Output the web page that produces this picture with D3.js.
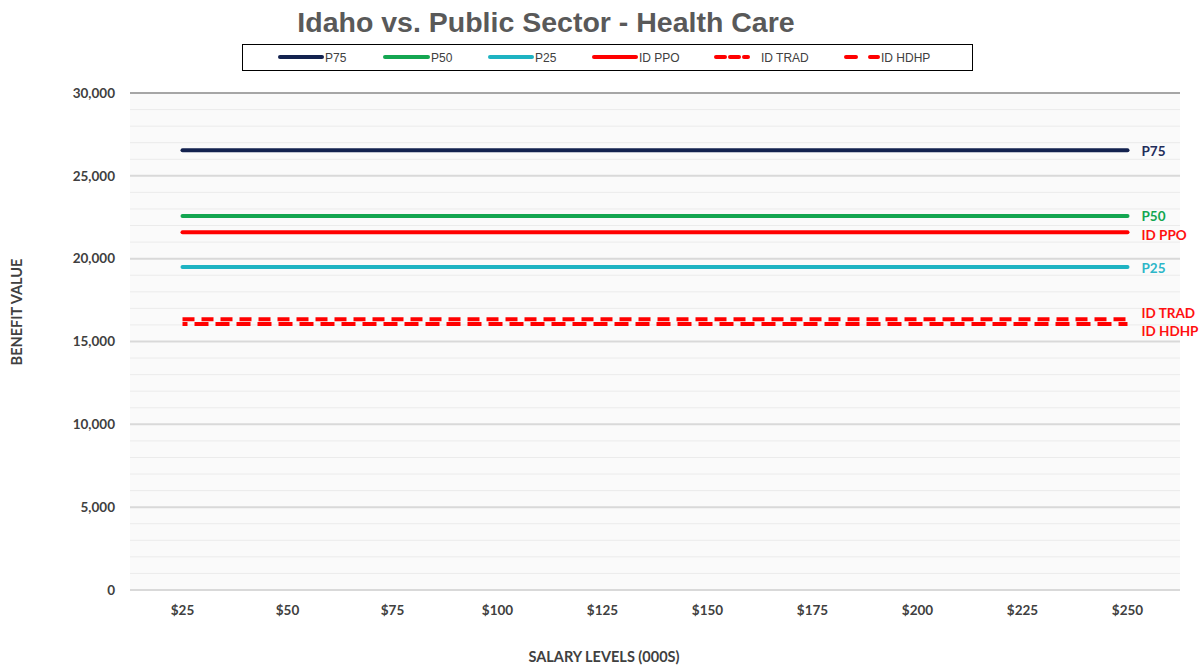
<!DOCTYPE html>
<html>
<head>
<meta charset="utf-8">
<script src="https://cdn.jsdelivr.net/npm/d3@7/dist/d3.min.js"></script>
<style>
body { margin: 0; background: #fff; }
</style>
</head>
<body>
<script>
const salaries = ["$25", "$50", "$75", "$100", "$125", "$150", "$175", "$200", "$225", "$250"];
const seriesNames = ["P75", "P50", "P25", "ID PPO", "ID TRAD", "ID HDHP"];
const p75 = [26550, 26550, 26550, 26550, 26550, 26550, 26550, 26550, 26550, 26550];
const p50 = [22570, 22570, 22570, 22570, 22570, 22570, 22570, 22570, 22570, 22570];
const p25 = [19490, 19490, 19490, 19490, 19490, 19490, 19490, 19490, 19490, 19490];
const idPpo = [21600, 21600, 21600, 21600, 21600, 21600, 21600, 21600, 21600, 21600];
const idTrad = [16350, 16350, 16350, 16350, 16350, 16350, 16350, 16350, 16350, 16350];
const idHdhp = [16050, 16050, 16050, 16050, 16050, 16050, 16050, 16050, 16050, 16050];
const yTicks = [0, 5000, 10000, 15000, 20000, 25000, 30000];

const width = 1199, height = 667;
const plotLeft = 130, plotRight = 1180, plotTop = 93, plotBottom = 590;

const svg = d3.select("body").append("svg")
    .attr("width", width)
    .attr("height", height);

const x = d3.scaleBand().domain(salaries).range([plotLeft, plotRight]);
const y = d3.scaleLinear().domain([0, 30000]).range([plotBottom, plotTop]);

// plot area
svg.append("rect")
    .attr("x", plotLeft).attr("y", plotTop)
    .attr("width", plotRight - plotLeft).attr("height", plotBottom - plotTop)
    .attr("fill", "#fafafa");

// minor gridlines
svg.append("g").selectAll("line")
    .data(d3.range(1000, 30000, 1000).filter(v => v % 5000 != 0))
    .enter().append("line")
    .attr("x1", plotLeft).attr("x2", plotRight)
    .attr("y1", d => y(d)).attr("y2", d => y(d))
    .attr("stroke", "#ebebeb")
    .attr("stroke-width", 1);

// major gridlines
svg.append("g").selectAll("line")
    .data(yTicks)
    .enter().append("line")
    .attr("x1", plotLeft).attr("x2", plotRight)
    .attr("y1", d => y(d)).attr("y2", d => y(d))
    .attr("stroke", d => d == 30000 ? "#a6a6a6" : "#d9d9d9")
    .attr("stroke-width", 2);

// y axis
const yAxis = svg.append("g")
    .attr("transform", "translate(" + (plotLeft - 12) + ",0)")
    .call(d3.axisLeft(y).tickValues(yTicks).tickSize(0).tickFormat(d3.format(",")));
yAxis.select(".domain").remove();
yAxis.selectAll("text")
    .attr("font-family", "Lato, 'Open Sans', sans-serif")
    .attr("font-weight", "bold")
    .attr("font-size", 13.5)
    .attr("fill", "#404040");

// x axis
const xAxis = svg.append("g")
    .attr("transform", "translate(0," + (plotBottom + 12) + ")")
    .call(d3.axisBottom(x).tickSize(0));
xAxis.select(".domain").remove();
xAxis.selectAll("text")
    .attr("font-family", "Lato, 'Open Sans', sans-serif")
    .attr("font-weight", "bold")
    .attr("font-size", 13.5)
    .attr("fill", "#404040");

const series = [
    { name: "P75", values: p75, color: "#13224f", dash: null, labelColor: "#1f2d5a", dy: 6 },
    { name: "P50", values: p50, color: "#14a651", dash: null, labelColor: "#14a651", dy: 5 },
    { name: "P25", values: p25, color: "#1eb3c2", dash: null, labelColor: "#2cb6c8", dy: 6 },
    { name: "ID PPO", values: idPpo, color: "#ff0000", dash: null, labelColor: "#ff1010", dy: 8 },
    { name: "ID TRAD", values: idTrad, color: "#ff0000", dash: "12,7", offset: 0, labelColor: "#ff1010", dy: -1 },
    { name: "ID HDHP", values: idHdhp, color: "#ff0000", dash: "14,7", offset: 9, labelColor: "#ff1010", dy: 12 }
];

const line = d3.line()
    .x((d, i) => x(salaries[i]) + x.bandwidth() / 2)
    .y(d => y(d));

svg.append("g").selectAll("path")
    .data(series)
    .enter().append("path")
    .attr("d", d => line(d.values))
    .attr("fill", "none")
    .attr("stroke", d => d.color)
    .attr("stroke-width", 4)
    .attr("stroke-linecap", d => d.dash ? "butt" : "round")
    .attr("stroke-dasharray", d => d.dash)
    .attr("stroke-dashoffset", d => d.offset || 0);

// end labels
svg.append("g").selectAll("text")
    .data(series)
    .enter().append("text")
    .attr("x", x(salaries[salaries.length - 1]) + x.bandwidth() / 2 + 14)
    .attr("y", d => y(d.values[d.values.length - 1]) + d.dy)
    .attr("font-family", "Lato, 'Open Sans', sans-serif")
    .attr("font-weight", "bold")
    .attr("font-size", 13.5)
    .attr("fill", d => d.labelColor)
    .text(d => d.name);

// title
svg.append("text")
    .attr("x", 546).attr("y", 32)
    .attr("text-anchor", "middle")
    .attr("font-family", "'Liberation Sans', Arial, sans-serif")
    .attr("font-weight", "bold")
    .attr("font-size", 28.5)
    .attr("fill", "#595959")
    .text("Idaho vs. Public Sector - Health Care");

// legend
svg.append("rect")
    .attr("x", 242.5).attr("y", 44.5)
    .attr("width", 730).attr("height", 26)
    .attr("fill", "#fff")
    .attr("stroke", "#000")
    .attr("stroke-width", 1);

const legendX = [280, 385, 490, 594, 716, 846];
const legendLen = [42, 43, 42, 42, 42, 32];
const legendDash = [null, null, null, null, "9,5,9,5,4,20", "10,14"];
const lg = svg.append("g").selectAll("g")
    .data(series)
    .enter().append("g")
    .attr("transform", (d, i) => "translate(" + legendX[i] + ",57)");
lg.append("line")
    .attr("x1", 0).attr("x2", (d, i) => legendLen[i])
    .attr("stroke", d => d.color)
    .attr("stroke-width", 4)
    .attr("stroke-linecap", "round")
    .attr("stroke-dasharray", (d, i) => legendDash[i]);
lg.append("text")
    .attr("x", (d, i) => legendLen[i] + 3)
    .attr("y", 5)
    .attr("font-family", "'Liberation Sans Narrow', 'Liberation Sans', sans-serif")
    .attr("font-size", 12)
    .attr("fill", "#404040")
    .text(d => d.name);

// axis titles
svg.append("text")
    .attr("x", 604).attr("y", 662)
    .attr("text-anchor", "middle")
    .attr("font-family", "Lato, 'Open Sans', sans-serif")
    .attr("font-weight", "bold")
    .attr("font-size", 14.5)
    .attr("fill", "#404040")
    .text("SALARY LEVELS (000S)");

svg.append("text")
    .attr("transform", "translate(22,312) rotate(-90)")
    .attr("text-anchor", "middle")
    .attr("font-family", "Lato, 'Open Sans', sans-serif")
    .attr("font-weight", "bold")
    .attr("font-size", 14.5)
    .attr("fill", "#404040")
    .text("BENEFIT VALUE");
</script>
</body>
</html>
